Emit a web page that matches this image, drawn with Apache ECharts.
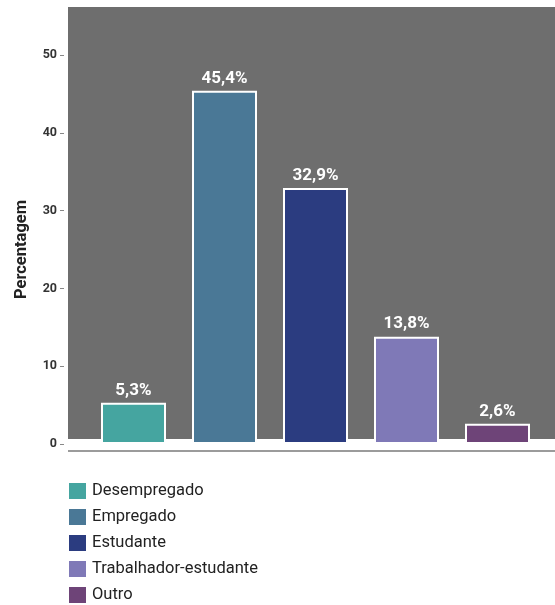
<!DOCTYPE html>
<html>
<head>
<meta charset="utf-8">
<script src="https://cdn.jsdelivr.net/npm/echarts@6/dist/echarts.min.js"></script>
<style>
  html, body { margin: 0; padding: 0; background: #ffffff; }
  #chart { width: 555px; height: 605px; }
</style>
</head>
<body>
<div id="chart"></div>
<script>
// Situação profissional dos inquiridos (%)
const categories = ['Desempregado', 'Empregado', 'Estudante', 'Trabalhador-estudante', 'Outro'];
const values = [5.3, 45.4, 32.9, 13.8, 2.6];
const colors = ['#45a5a0', '#4a7896', '#2b3c80', '#7f79b7', '#6e4478'];
const yTicks = [0, 10, 20, 30, 40, 50];

const chart = echarts.init(document.getElementById('chart'), null, { renderer: 'canvas' });

// one series per category so each gets its own legend entry; stacking keeps bars centred
const series = categories.map((name, i) => ({
  name: name,
  type: 'bar',
  stack: 'all',
  barWidth: 65,
  data: categories.map((_, j) => (j === i ? values[i] : '-')),
  itemStyle: { color: colors[i], borderColor: '#ffffff', borderWidth: 2 },
  label: {
    show: true,
    position: 'top',
    distance: 4,
    color: '#ffffff',
    fontFamily: 'Roboto',
    fontWeight: 'bold',
    fontSize: 17,
    formatter: p => p.value.toFixed(1).replace('.', ',') + '%'
  }
}));

chart.setOption({
  animation: false,
  backgroundColor: '#ffffff',
  grid: { left: 88, right: 12, top: 55, bottom: 161, containLabel: false },
  graphic: [
    { type: 'rect', z: -10, shape: { x: 68, y: 7, width: 487, height: 432 }, style: { fill: '#6e6e6e' } },
    { type: 'line', z: -10, shape: { x1: 68, y1: 451, x2: 555, y2: 451 }, style: { stroke: '#7a7a7a', lineWidth: 1.5 } }
  ],
  legend: {
    orient: 'vertical',
    left: 67,
    top: 481,
    height: 160,
    padding: 0,
    icon: 'rect',
    itemWidth: 19,
    itemHeight: 18,
    itemGap: 6,
    itemTextGap: 14,
    textStyle: { fontFamily: 'Roboto', fontSize: 16.5, color: '#222222' },
    data: categories
  },
  xAxis: {
    type: 'category',
    data: categories,
    axisLine: { show: false },
    axisTick: { show: false },
    axisLabel: { show: false },
    splitLine: { show: false }
  },
  yAxis: {
    type: 'value',
    min: yTicks[0],
    max: yTicks[yTicks.length - 1],
    interval: 10,
    offset: 24,
    name: 'Percentagem',
    nameLocation: 'middle',
    nameGap: 34,
    nameTextStyle: { fontFamily: 'Roboto', fontWeight: 'bold', fontSize: 16.5, color: '#222222' },
    axisLine: { show: false },
    axisTick: { show: true, length: 4, lineStyle: { color: '#888888' } },
    axisLabel: { margin: 7, fontFamily: 'Roboto', fontWeight: 'bold', fontSize: 12.5, color: '#333333' },
    splitLine: { show: false }
  },
  series: series
});
</script>
</body>
</html>
